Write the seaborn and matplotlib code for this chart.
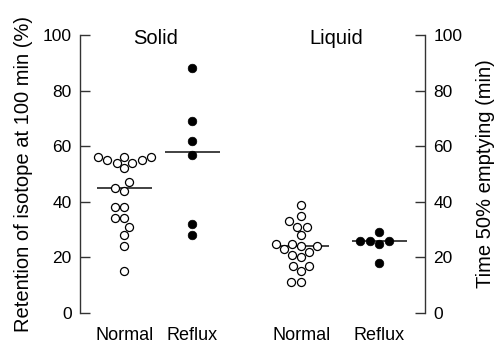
import matplotlib
matplotlib.use("Agg")
import matplotlib.pyplot as plt
import seaborn as sns
import pandas as pd

# ---- data ----
groups = ["Normal", "Reflux", "Normal", "Reflux"]
panels = ["Solid", "Liquid"]
solid_normal = [56, 56, 55, 56, 55, 54, 54, 52, 47, 45, 44, 38, 38, 34, 34, 31, 28, 24, 15]
solid_reflux = [88, 69, 62, 57, 32, 28]
liquid_normal = [39, 35, 33, 31, 31, 28, 25, 25, 24, 24, 23, 22, 21, 20, 17, 17, 15, 11, 11]
liquid_reflux = [29, 26, 26, 26, 25, 18]
medians = [45, 58, 24, 26]
yticks = [0, 20, 40, 60, 80, 100]

# column positions on the x axis
xpos = [0.0, 1.0, 2.6, 3.75]

sns.set_theme(style="white")
plt.rcParams["font.family"] = ["Liberation Sans", "DejaVu Sans"]
plt.rcParams["text.color"] = "black"
plt.rcParams["axes.labelcolor"] = "black"
plt.rcParams["xtick.color"] = "black"
plt.rcParams["ytick.color"] = "black"

normal_df = pd.DataFrame({
    "x": [xpos[0]] * len(solid_normal) + [xpos[2]] * len(liquid_normal),
    "y": solid_normal + liquid_normal,
})
reflux_df = pd.DataFrame({
    "x": [xpos[1]] * len(solid_reflux) + [xpos[3]] * len(liquid_reflux),
    "y": solid_reflux + liquid_reflux,
})

fig = plt.figure(figsize=(4.97, 3.49), dpi=100)
ax = fig.add_axes([80 / 497, 1 - 313 / 349, (425 - 80) / 497, (313 - 35) / 349])

# median bars
for xp, m in zip(xpos, medians):
    ax.hlines(m, xp - 0.41, xp + 0.41, color="#333333", lw=1.3, zorder=1)

sns.swarmplot(data=normal_df, x="x", y="y", native_scale=True, ax=ax,
              color="white", edgecolor="black", linewidth=0.9, size=5.8, zorder=3)
sns.swarmplot(data=reflux_df, x="x", y="y", native_scale=True, ax=ax,
              color="black", edgecolor="black", linewidth=0.5, size=6.2, zorder=3)

ax.set_xlim(-0.654, 4.42)
ax.set_ylim(0, 100)
ax.set_yticks(yticks)
ax.set_xticks(xpos)
ax.set_xticklabels(groups, fontsize=13)
ax.set_xlabel("")
ax.set_ylabel("Retention of isotope at 100 min (%)", fontsize=14.5, labelpad=7)
ax.tick_params(axis="x", length=0, pad=10)
ax.tick_params(axis="y", direction="in", length=7, width=1, color="#333333",
               labelcolor="black", labelsize=12.5, pad=6)

for s in ["top", "bottom", "right"]:
    ax.spines[s].set_visible(False)
ax.spines["left"].set_color("#333333")
ax.spines["left"].set_linewidth(1)

# panel titles placed in data coordinates
ax.text((156 - 124.5) / 68, 98.7, panels[0], fontsize=14.5, ha="center", va="center")
ax.text((336.5 - 124.5) / 68, 98.7, panels[1], fontsize=14.5, ha="center", va="center")

ax2 = ax.twinx()
ax2.set_ylim(0, 100)
ax2.set_yticks(yticks)
ax2.set_ylabel("Time 50% emptying (min)", fontsize=14.5, labelpad=10)
ax2.tick_params(axis="y", direction="in", length=7, width=1, color="#333333",
                labelcolor="black", labelsize=12.5, pad=6)
for s in ["top", "bottom", "left"]:
    ax2.spines[s].set_visible(False)
ax2.spines["right"].set_color("#333333")
ax2.spines["right"].set_linewidth(1)

fig.savefig("out.png", dpi=100)
